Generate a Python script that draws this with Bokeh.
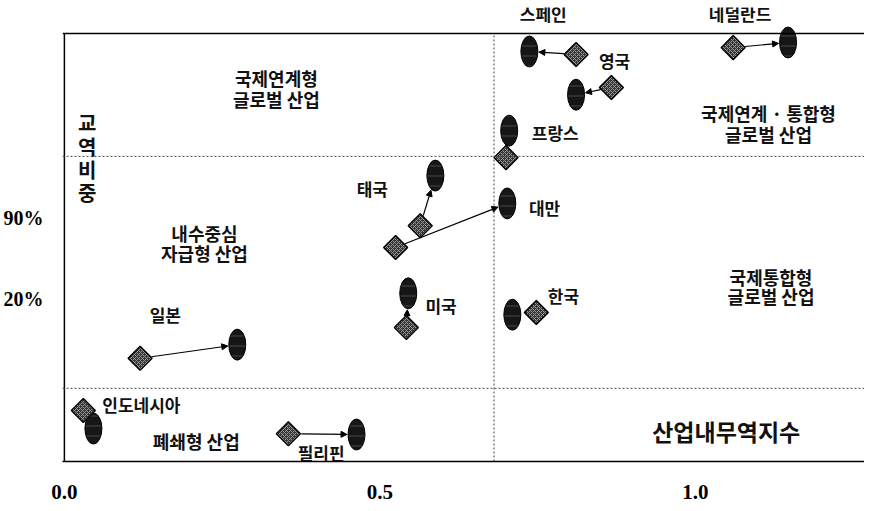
import numpy as np
from bokeh.plotting import figure
from bokeh.models import (Range1d, Span, Label, Arrow, NormalHead, LinearAxis,
                          FixedTicker, PrintfTickFormatter, ColumnDataSource)
from bokeh.embed import file_html
from bokeh.resources import INLINE

# ---------------- data ----------------
countries = ["스페인", "영국", "네덜란드", "프랑스", "대만", "태국",
             "미국", "한국", "일본", "인도네시아", "필리핀"]
# earlier period (diamond)
iit_start = [0.811, 0.867, 1.060, 0.700, 0.525, 0.564, 0.542, 0.748, 0.120, 0.030, 0.355]
share_start = [95.1, 87.4, 96.7, 71.0, 50.0, 55.1, 31.3, 34.8, 24.1, 11.9, 6.5]
# later period (ellipse)
iit_end = [0.737, 0.811, 1.147, 0.705, 0.702, 0.588, 0.545, 0.710, 0.274, 0.046, 0.463]
share_end = [95.8, 85.7, 97.9, 77.3, 60.3, 66.8, 39.3, 34.3, 27.3, 7.7, 6.3]

x_ticks = [0.0, 0.5, 1.0]
y_ticks = [57, 38]
y_tick_labels = ["90%", "20%"]
iit_threshold = 0.681
share_thresholds = [71.3, 17.1]
share_top = 100.0

# ---------------- layout ----------------
W, H = 864, 502
BL, BT, BB = 62, 7, 41
FW, FH = W - BL, H - BT - BB
X_START = -0.003
SX = 800 / 1.268                 # px per index unit
SY = 428 / share_top             # px per share unit
X_END = X_START + FW / SX
Y_END = FH / SY

p = figure(width=W, height=H, x_range=Range1d(X_START, X_END), y_range=Range1d(0, Y_END),
           output_backend="svg", toolbar_location=None,
           x_axis_location=None, y_axis_location=None,
           min_border_left=BL, min_border_right=0, min_border_top=BT, min_border_bottom=BB)
p.grid.visible = False
p.outline_line_color = None
p.background_fill_color = "white"
p.border_fill_color = "white"

TICK_FONT = "Liberation Serif"

xaxis = LinearAxis(ticker=FixedTicker(ticks=x_ticks),
                   formatter=PrintfTickFormatter(format="%.1f"))
xaxis.major_tick_line_color = None
xaxis.minor_tick_line_color = None
xaxis.axis_line_color = "black"
xaxis.axis_line_width = 1.5
xaxis.major_label_standoff = 17
xaxis.major_label_text_font = TICK_FONT
xaxis.major_label_text_font_style = "bold"
xaxis.major_label_text_font_size = "21px"
xaxis.major_label_text_color = "black"
p.add_layout(xaxis, "below")

yaxis = LinearAxis(ticker=FixedTicker(ticks=y_ticks),
                   major_label_overrides={t: l for t, l in zip(y_ticks, y_tick_labels)})
yaxis.major_tick_line_color = None
yaxis.minor_tick_line_color = None
yaxis.axis_line_color = None
yaxis.major_label_standoff = 13
yaxis.major_label_text_font = TICK_FONT
yaxis.major_label_text_font_style = "bold"
yaxis.major_label_text_font_size = "20px"
yaxis.major_label_text_color = "black"
p.add_layout(yaxis, "left")

# plot-box borders (left and top)
p.segment(x0=[0], y0=[0], x1=[0], y1=[share_top], line_color="black", line_width=1.5)
p.add_layout(Span(location=share_top, dimension="width", line_color="black", line_width=1.5))

# threshold lines
p.segment(x0=[iit_threshold], y0=[0], x1=[iit_threshold], y1=[share_top],
          line_color="#444", line_width=1, line_dash="2 2")
for s in share_thresholds:
    p.add_layout(Span(location=s, dimension="width", line_color="#444",
                      line_width=1, line_dash="2 2"))

# markers
EW, EH = 17, 31          # ellipse size (px)
DS = 17                  # diamond side (px)
src = ColumnDataSource(dict(xs=iit_start, ys=share_start, xe=iit_end, ye=share_end))
p.ellipse(x="xe", y="ye", width=EW, height=EH, width_units="screen", height_units="screen",
          source=src, fill_color="#161616", line_color="black", line_width=1,
          hatch_pattern="horizontal_line", hatch_color="#484848", hatch_scale=10, hatch_weight=1)
p.scatter(x="xs", y="ys", marker="square", angle=np.pi / 4, size=DS, source=src,
          fill_color="#333333", line_color="black", line_width=1.4,
          hatch_pattern="diagonal_cross", hatch_color="#9a9a9a", hatch_scale=4, hatch_weight=1)

# arrows from earlier to later position
ea, eb = EW / 2 + 1, EH / 2 + 1
rd = DS / np.sqrt(2) + 1
for xs, ys, xe, ye in zip(iit_start, share_start, iit_end, share_end):
    dx, dy = (xe - xs) * SX, (ye - ys) * SY
    L = np.hypot(dx, dy)
    ux, uy = dx / L, dy / L
    r_end = 1.0 / np.sqrt((ux / ea) ** 2 + (uy / eb) ** 2)
    r_start = rd / (abs(ux) + abs(uy))
    if L - r_end - r_start < 4:
        continue
    p.add_layout(Arrow(x_start=xs + ux * r_start / SX, y_start=ys + uy * r_start / SY,
                       x_end=xe - ux * r_end / SX, y_end=ye - uy * r_end / SY,
                       line_color="black", line_width=1.2,
                       end=NormalHead(size=6, fill_color="black", line_color="black")))

# texts (label, x, y, font size)
KFONT = "Noto Sans CJK KR"
texts = [
    ("스페인", 0.759, 104.7, 17), ("영국", 0.872, 93.7, 17), ("네덜란드", 1.071, 104.7, 17),
    ("프랑스", 0.778, 76.9, 17), ("대만", 0.761, 59.3, 17), ("태국", 0.488, 63.8, 17),
    ("미국", 0.597, 36.4, 17), ("한국", 0.791, 38.8, 17), ("일본", 0.160, 34.3, 17),
    ("인도네시아", 0.122, 13.3, 17), ("필리핀", 0.407, 2.1, 17),
    ("국제연계형", 0.336, 89.5, 18), ("글로벌 산업", 0.336, 84.8, 18),
    ("내수중심", 0.222, 53.5, 18), ("자급형 산업", 0.222, 48.8, 18),
    ("폐쇄형 산업", 0.209, 4.9, 18),
    ("국제연계 · 통합형", 1.116, 81.5, 18), ("글로벌 산업", 1.116, 76.6, 18),
    ("국제통합형", 1.120, 43.2, 18), ("글로벌 산업", 1.120, 38.6, 18),
    ("산업내무역지수", 1.049, 7.2, 23),
    ("교", 0.036, 79.2, 20), ("역", 0.036, 73.6, 20), ("비", 0.036, 68.2, 20), ("중", 0.036, 62.9, 20),
]
for t, x, y, fs in texts:
    p.add_layout(Label(x=x, y=y, text=t, text_align="center", text_baseline="middle",
                       text_font=KFONT, text_font_style="bold",
                       text_font_size=f"{fs}px", text_color="#111111"))

open("out.html", "w").write(file_html(p, INLINE))
